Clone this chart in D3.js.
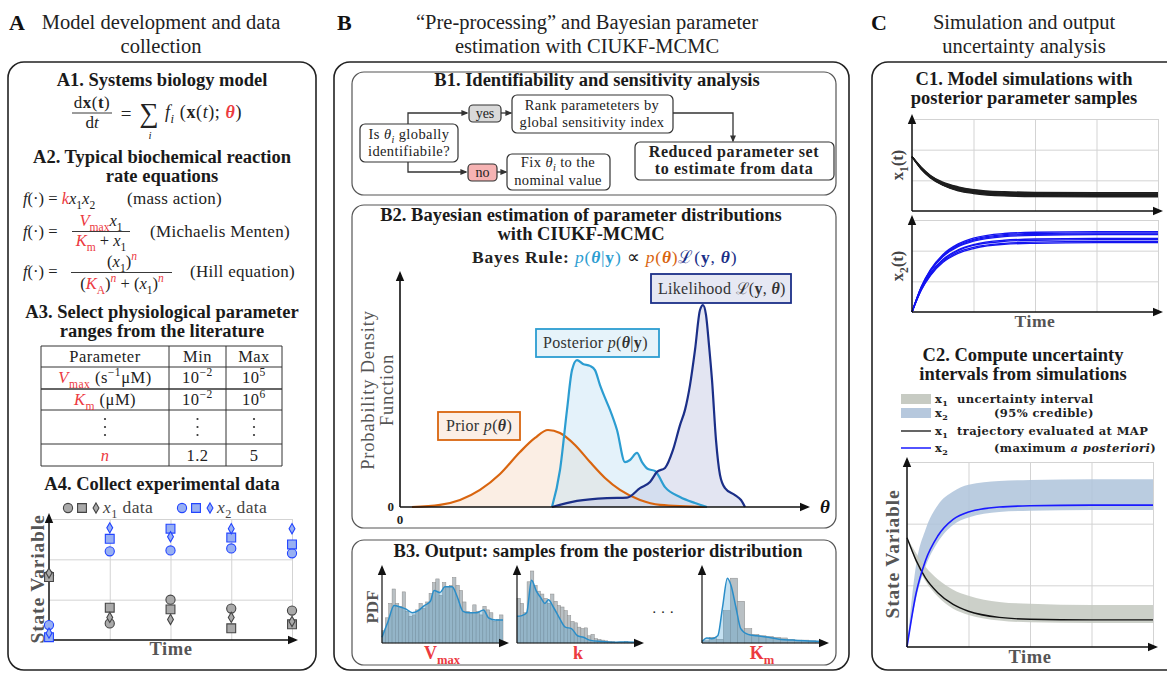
<!DOCTYPE html>
<html>
<head>
<meta charset="utf-8">
<script src="https://cdn.jsdelivr.net/npm/d3@7"></script>
<style>
  body { margin: 0; background: #fff; }
  svg { display: block; font-family: "Liberation Serif", "Times New Roman", serif; }
</style>
</head>
<body>
<svg id="fig" width="1167" height="673"></svg>
<script>
"use strict";

// ---- A3: parameter table ----
var tableHeader = ["Parameter", "Min", "Max"];
var tableMin = ["10|−2", "10|−2", "", "1.2"];   // base|exponent
var tableMax = ["10|5", "10|6", "", "5"];

// ---- A4: experimental data (time index, state value) ----
var dataTimes = [0, 1, 2, 3, 4];
var x1Circle  = [1.60, 0.41, 1.00, 0.78, 0.73];
var x1Square  = [1.56, 0.80, 0.76, 0.29, 0.39];
var x1Diamond = [1.66, 0.56, 0.51, 0.56, 0.46];
var x2Circle  = [0.37, 2.20, 2.22, 2.27, 2.15];
var x2Square  = [0.07, 2.51, 2.76, 2.54, 2.37];
var x2Diamond = [0.17, 2.78, 2.56, 2.76, 2.76];

// ---- B2: densities [theta, density] ----
var priorPts = [[0.30,0],[1.00,0.009],[1.50,0.030],[2.00,0.073],[2.50,0.141],[3.00,0.235],
  [3.375,0.295],[3.70,0.329],[4.00,0.316],[4.375,0.265],[4.75,0.192],[5.125,0.124],
  [5.50,0.073],[6.00,0.030],[6.50,0.009],[7.675,0]];
var posteriorPts = [[3.80,0],[4.00,0.158],[4.175,0.415],[4.30,0.585],[4.425,0.628],[4.575,0.611],
  [4.75,0.603],[4.875,0.585],[5.00,0.521],[5.125,0.466],[5.25,0.415],[5.425,0.329],[5.625,0.192],
  [5.75,0.201],[5.925,0.231],[6.05,0.192],[6.20,0.162],[6.375,0.154],[6.625,0.085],[7.00,0.043],
  [7.375,0.017],[7.675,0]];
var likelihoodPts = [[3.80,0],[4.425,0.026],[5.175,0.038],[5.675,0.040],[6.00,0.081],[6.25,0.107],
  [6.425,0.150],[6.625,0.167],[6.825,0.244],[7.00,0.350],[7.125,0.415],[7.25,0.521],[7.375,0.671],
  [7.50,0.842],[7.575,0.863],[7.65,0.821],[7.725,0.692],[7.80,0.543],[7.90,0.286],[8.00,0.137],
  [8.125,0.081],[8.375,0.051],[8.525,0.030],[8.625,0]];

// ---- B3: posterior samples histograms + KDE ----
var vmaxBins = [0.17,0.35,0.55,0.75,0.55,0.51,0.71,0.44,0.37,0.39,0.46,0.55,0.48,0.57,0.69,0.84,
  0.89,0.66,0.84,0.78,0.80,0.91,0.80,0.73,0.57,0.44,0.42,0.53,0.44,0.39,0.51,0.46,0.42,0.30,0.33,0.39];
var vmaxKde = [[0,0.08],[0.05,0.30],[0.10,0.52],[0.15,0.50],[0.20,0.47],[0.25,0.42],[0.30,0.45],
  [0.35,0.52],[0.40,0.58],[0.43,0.73],[0.48,0.70],[0.52,0.78],[0.58,0.78],[0.62,0.65],[0.67,0.44],
  [0.72,0.42],[0.78,0.42],[0.84,0.46],[0.88,0.35],[0.94,0.32],[1,0.32]];
var kBins = [0.62,0.55,0.42,0.85,1.00,0.80,0.72,0.68,0.62,0.55,0.68,0.58,0.52,0.50,0.45,0.38,0.30,0.28,
  0.22,0.20,0.21,0.10,0.12,0.06,0.05,0.04,0.03,0.02,0.02,0.01,0.01,0.01,0.02,0.01,0.01,0.01];
var kKde = [[0,0.37],[0.04,0.38],[0.08,0.42],[0.12,0.87],[0.16,0.72],[0.20,0.62],[0.23,0.55],
  [0.26,0.60],[0.30,0.50],[0.35,0.35],[0.40,0.22],[0.45,0.20],[0.50,0.10],[0.55,0.08],[0.60,0.04],
  [0.70,0.02],[0.80,0.01],[0.90,0.015],[1,0.01]];
var kmBins = [0.03,0.08,0.05,0.45,0.90,0.58,0.20,0.12,0.10,0.09,0.08,0.07,0.05,0.04,0.04,0.03,0.02];
var kmKde = [[0,0.02],[0.04,0.07],[0.08,0.06],[0.13,0.10],[0.17,0.50],[0.21,0.90],[0.24,0.80],
  [0.28,0.50],[0.32,0.20],[0.38,0.12],[0.45,0.10],[0.55,0.08],[0.65,0.05],[0.75,0.04],[0.85,0.03],[1,0.02]];

// ---- C1: simulated trajectories from posterior samples ----
var simTimes = [0, 0.15, 0.3, 0.5, 0.75, 1, 1.5, 2, 3, 4];
var x1Sims = [
  [1.77,1.36,1.08,0.84,0.66,0.57,0.49,0.47,0.46,0.46],
  [1.77,1.37,1.09,0.85,0.68,0.59,0.51,0.49,0.48,0.48],
  [1.77,1.38,1.10,0.86,0.69,0.60,0.53,0.51,0.50,0.50],
  [1.77,1.39,1.11,0.88,0.71,0.62,0.55,0.53,0.52,0.52],
  [1.77,1.40,1.12,0.89,0.73,0.64,0.57,0.55,0.54,0.54],
  [1.77,1.41,1.14,0.91,0.75,0.66,0.59,0.57,0.56,0.56],
  [1.77,1.42,1.15,0.92,0.77,0.68,0.61,0.59,0.58,0.58],
  [1.77,1.43,1.16,0.94,0.79,0.70,0.63,0.61,0.60,0.60]];
var x2Sims = [
  [0,0.82,1.38,1.87,2.22,2.41,2.56,2.60,2.62,2.62],
  [0,0.81,1.36,1.84,2.19,2.37,2.52,2.56,2.58,2.58],
  [0,0.80,1.35,1.82,2.16,2.34,2.49,2.53,2.55,2.55],
  [0,0.79,1.33,1.80,2.13,2.31,2.46,2.50,2.52,2.52],
  [0,0.75,1.27,1.71,2.03,2.20,2.34,2.38,2.40,2.40],
  [0,0.74,1.25,1.68,2.00,2.17,2.30,2.34,2.36,2.36],
  [0,0.72,1.21,1.64,1.95,2.11,2.24,2.28,2.30,2.30],
  [0,0.71,1.19,1.61,1.91,2.07,2.21,2.24,2.26,2.26]];

// ---- C2: MAP trajectories and 95% credible bands ----
var x1Map = [1.77,1.40,1.12,0.88,0.69,0.58,0.48,0.45,0.44,0.44];
var x1Lo  = [1.77,1.36,1.07,0.82,0.62,0.52,0.43,0.40,0.39,0.39];
var x1Hi  = [1.77,1.52,1.30,1.10,0.93,0.83,0.73,0.70,0.68,0.68];
var x2Map = [0,0.88,1.40,1.80,2.07,2.19,2.27,2.29,2.30,2.30];
var x2Lo  = [0,0.80,1.30,1.70,1.98,2.10,2.19,2.21,2.22,2.22];
var x2Hi  = [0,1.35,1.90,2.30,2.52,2.63,2.69,2.71,2.72,2.72];


var RED = "#ec3a3f", ORANGE = "#d9650f", LBLUE = "#2c9dd1", NAVY = "#1b2f88",
    GRID = "#d3d3d3", INK = "#222", AXT = "#555";

var svg = d3.select("#fig");
var defs = svg.append("defs");

function marker(id, size, color) {
    defs.append("marker").attr("id", id)
        .attr("viewBox", "0 0 10 10").attr("refX", 8).attr("refY", 5)
        .attr("markerWidth", size).attr("markerHeight", size)
        .attr("markerUnits", "userSpaceOnUse").attr("orient", "auto")
        .append("path").attr("d", "M0,0.8 L10,5 L0,9.2 z").attr("fill", color);
}
marker("arr", 10, "#111");
marker("arrS", 7, "#333");

//text made of styled runs: {t, i, b, sub, sup, c}
function rich(g, x, y, parts, o) {
    o = o || {};
    var size = o.size || 15, cur = 0;
    var t = g.append("text").attr("x", x).attr("y", y)
        .attr("font-size", size)
        .attr("text-anchor", o.anchor || "start")
        .attr("fill", o.fill || INK);
    if(o.bold) { t.attr("font-weight", "bold"); }
    if(o.font) { t.attr("font-family", o.font); }
    if(o.ls) { t.attr("letter-spacing", o.ls); }
    if(o.rotate) { t.attr("transform", "rotate(-90," + x + "," + y + ")"); }
    parts.forEach(function (p) {
        if(typeof p === "string") { p = {t: p}; }
        var off = p.sub ? size * 0.28 : (p.sup ? -size * 0.42 : 0);
        var ts = t.append("tspan").attr("dy", off - cur).text(p.t);
        cur = off;
        if(p.sub || p.sup) { ts.attr("font-size", size * 0.7); }
        if(p.i) { ts.attr("font-style", "italic"); }
        if(p.b) { ts.attr("font-weight", "bold"); }
        if(p.c) { ts.attr("fill", p.c); }
    });
    return t;
}

function label(g, x, y, s, o) {
    return rich(g, x, y, [s], o);
}

function box(g, x, y, w, h, r, o) {
    o = o || {};
    return g.append("rect").attr("x", x).attr("y", y).attr("width", w).attr("height", h)
        .attr("rx", r).attr("ry", r)
        .attr("fill", o.fill || "none")
        .attr("stroke", o.stroke || INK)
        .attr("stroke-width", o.sw || 1.2);
}

function hline(g, x1, x2, y, o) {
    o = o || {};
    return g.append("line").attr("x1", x1).attr("x2", x2).attr("y1", y).attr("y2", y)
        .attr("stroke", o.stroke || INK).attr("stroke-width", o.sw || 1);
}

function grid(g, xs, ys, xticks, yticks) {
    var h = ys.range()[0] - ys.range()[1], w = xs.range()[1] - xs.range()[0];
    g.append("g").attr("transform", "translate(0," + ys.range()[0] + ")")
        .call(d3.axisBottom(xs).tickValues(xticks).tickSize(-h).tickFormat(""))
        .call(function (a) { a.select(".domain").remove();
            a.selectAll("line").attr("stroke", GRID); });
    g.append("g").attr("transform", "translate(" + xs.range()[0] + ",0)")
        .call(d3.axisLeft(ys).tickValues(yticks).tickSize(-w).tickFormat(""))
        .call(function (a) { a.select(".domain").remove();
            a.selectAll("line").attr("stroke", GRID); });
}

function arrowAxes(g, xs, ys, ext, sw) {
    var x0 = xs.range()[0], x1 = xs.range()[1], y0 = ys.range()[0], y1 = ys.range()[1];
    g.append("line").attr("x1", x0).attr("y1", y0).attr("x2", x0).attr("y2", y1 - ext)
        .attr("stroke", "#111").attr("stroke-width", sw || 1.5).attr("marker-end", "url(#arr)");
    g.append("line").attr("x1", x0).attr("y1", y0).attr("x2", x1 + ext).attr("y2", y0)
        .attr("stroke", "#111").attr("stroke-width", sw || 1.5).attr("marker-end", "url(#arr)");
}

function panelHead(letter, lx, cx, lines) {
    svg.append("text").attr("x", lx).attr("y", 30).attr("font-size", 22)
        .attr("font-weight", "bold").attr("fill", "#111").text(letter);
    lines.forEach(function (s, i) {
        svg.append("text").attr("x", cx).attr("y", 29 + i * 24).attr("font-size", 20.5)
            .attr("text-anchor", "middle").attr("fill", INK).text(s);
    });
}

function heading(g, cx, y, lines, gap) {
    lines.forEach(function (s, i) {
        label(g, cx, y + i * (gap || 19), s, {anchor: "middle", bold: true, size: 18.5, fill: "#1a1a1a"});
    });
}

// ================= Panel A =================
function drawPanelA() {
    var g = svg.append("g");
    panelHead("A", 9, 161, ["Model development and data", "collection"]);
    box(g, 8, 62, 308, 608, 16, {sw: 1.6});

    heading(g, 162, 86, ["A1. Systems biology model"]);
    // dx(t)/dt = sum_i f_i(x(t); theta)
    rich(g, 92, 108, ["d", {t: "x", b: 1}, "(", {t: "t", b: 1}, ")"], {anchor: "middle", size: 17, ls: 0.5});
    hline(g, 72, 112, 113, {sw: 0.9});
    rich(g, 92, 128, ["d", {t: "t", i: 1}], {anchor: "middle", size: 17});
    label(g, 126, 120, "=", {anchor: "middle", size: 19});
    label(g, 149, 122, "∑", {anchor: "middle", size: 27});
    label(g, 150, 139, "i", {anchor: "middle", size: 11, fill: INK}).attr("font-style", "italic");
    rich(g, 165, 118, [{t: "f", i: 1}, {t: "i", i: 1, sub: 1}, " (", {t: "x", b: 1}, "(",
        {t: "t", i: 1}, "); ", {t: "θ", b: 1, i: 1, c: RED}, ")"], {size: 18, ls: 0.6});

    heading(g, 162, 163, ["A2. Typical biochemical reaction", "rate equations"]);
    var eq = {size: 16.5};
    var fdot = [{t: "f", i: 1}, "(·) = "];
    rich(g, 23, 204, fdot.concat([{t: "k", i: 1, c: RED}, {t: "x", i: 1}, {t: "1", sub: 1},
        {t: "x", i: 1}, {t: "2", sub: 1}]), eq);
    label(g, 127, 204, "(mass action)", {size: 17, ls: 0.3});

    rich(g, 23, 237, fdot, eq);
    rich(g, 101, 226, [{t: "V", i: 1, c: RED}, {t: "max", sub: 1, c: RED}, {t: "x", i: 1},
        {t: "1", sub: 1}], {anchor: "middle", size: 16.5});
    hline(g, 72, 130, 231.5, {sw: 0.9});
    rich(g, 101, 246, [{t: "K", i: 1, c: RED}, {t: "m", sub: 1, c: RED}, " + ", {t: "x", i: 1},
        {t: "1", sub: 1}], {anchor: "middle", size: 16.5});
    label(g, 150, 237, "(Michaelis Menten)", {size: 17, ls: 0.3});

    rich(g, 23, 277, fdot, eq);
    rich(g, 122, 267, ["(", {t: "x", i: 1}, {t: "1", sub: 1}, ")", {t: "n", i: 1, sup: 1, c: RED}],
        {anchor: "middle", size: 16.5});
    hline(g, 71, 172, 272.5, {sw: 0.9});
    rich(g, 122, 289, ["(", {t: "K", i: 1, c: RED}, {t: "A", sub: 1, c: RED}, ")",
        {t: "n", i: 1, sup: 1, c: RED}, " + (", {t: "x", i: 1}, {t: "1", sub: 1}, ")",
        {t: "n", i: 1, sup: 1, c: RED}], {anchor: "middle", size: 16.5});
    label(g, 190, 277, "(Hill equation)", {size: 17, ls: 0.3});

    // A3 table
    heading(g, 162, 318, ["A3. Select physiological parameter", "ranges from the literature"]);
    var cols = [41, 169, 226, 282], rows = [346, 367, 389, 410, 444, 466];
    var cx = [105, 197.5, 254];
    rows.forEach(function (y, i) {
        hline(g, cols[0], cols[3], y, {sw: i === 2 ? 1.8 : 1, stroke: i === 2 ? "#666" : "#333"});
    });
    cols.forEach(function (x) {
        g.append("line").attr("x1", x).attr("x2", x).attr("y1", rows[0]).attr("y2", rows[5])
            .attr("stroke", "#333").attr("stroke-width", 1);
    });
    var tf = {anchor: "middle", size: 16.5, ls: 0.5};
    tableHeader.forEach(function (s, i) { label(g, cx[i], 362, s, tf); });
    var paramCells = [
        [{t: "V", i: 1, c: RED}, {t: "max", sub: 1, c: RED}, " (s", {t: "−1", sup: 1}, "μM)"],
        [{t: "K", i: 1, c: RED}, {t: "m", sub: 1, c: RED}, " (μM)"],
        null,
        [{t: "n", i: 1, c: RED}]];
    var rowBase = [383, 405, 0, 461];
    paramCells.forEach(function (cell, r) {
        if(!cell) {
            cx.forEach(function (x) {
                [419, 427, 435].forEach(function (y) {
                    g.append("circle").attr("cx", x).attr("cy", y).attr("r", 1.1).attr("fill", "#333");
                });
            });
            return;
        }
        rich(g, cx[0], rowBase[r], cell, tf);
        [tableMin[r], tableMax[r]].forEach(function (v, k) {
            var p = v.split("|");
            var parts = p.length > 1 ? [p[0], {t: p[1], sup: 1}] : [p[0]];
            rich(g, cx[k + 1], rowBase[r], parts, tf);
        });
    });

    // A4 data chart
    heading(g, 162, 490, ["A4. Collect experimental data"]);
    var xs = d3.scaleLinear([0, 4], [49, 292]), ys = d3.scaleLinear([0, 3], [640, 519]);
    grid(g, xs, ys, [1, 2, 3, 4], [1, 2, 3]);
    arrowAxes(g, xs, ys, 4, 1.5);

    var gray = {fill: "#aaaaaa", stroke: "#444"}, blue = {fill: "#98b0f2", stroke: "#2244ff"};
    var sym = {circle: d3.symbol(d3.symbolCircle, 66), square: d3.symbol(d3.symbolSquare, 78),
               diamond: d3.symbol(d3.symbolDiamond, 30)};
    function series(vals, shape, st) {
        g.append("g").selectAll("path").data(vals).join("path")
            .attr("transform", function (d, i) { return "translate(" + xs(dataTimes[i]) + "," + ys(d) + ")"; })
            .attr("d", sym[shape]).attr("fill", st.fill).attr("stroke", st.stroke).attr("stroke-width", 1.1);
    }
    series(x1Circle, "circle", gray); series(x1Square, "square", gray); series(x1Diamond, "diamond", gray);
    series(x2Circle, "circle", blue); series(x2Square, "square", blue); series(x2Diamond, "diamond", blue);

    // legend
    [[68, "circle", gray], [82, "square", gray], [96, "diamond", gray],
     [182, "circle", blue], [196, "square", blue], [210, "diamond", blue]].forEach(function (d) {
        g.append("path").attr("transform", "translate(" + d[0] + ",508)").attr("d", sym[d[1]])
            .attr("fill", d[2].fill).attr("stroke", d[2].stroke).attr("stroke-width", 1.1);
    });
    rich(g, 103, 513, [{t: "x", i: 1}, {t: "1", sub: 1}, " data"], {size: 17.5, fill: "#444", ls: 0.4});
    rich(g, 217, 513, [{t: "x", i: 1}, {t: "2", sub: 1}, " data"], {size: 17.5, fill: "#444", ls: 0.4});
    label(g, 44, 579, "State Variable", {anchor: "middle", size: 19.5, bold: true, fill: AXT, rotate: true, ls: 0.8});
    label(g, 171, 655, "Time", {anchor: "middle", size: 18.5, bold: true, fill: AXT, ls: 0.6});
}

// ================= Panel B =================
function drawPanelB() {
    var g = svg.append("g");
    panelHead("B", 337, 587, ["“Pre-processing” and Bayesian parameter", "estimation with CIUKF-MCMC"]);
    box(g, 334, 62, 515, 608, 16, {sw: 1.6});

    // B1 flowchart
    box(g, 352, 72, 484, 123, 12, {stroke: "#555", sw: 1.2});
    heading(g, 597, 86, ["B1. Identifiability and sensitivity analysis"]);
    var fo = {anchor: "middle", size: 14.5, ls: 0.4}, th = [{t: "θ", i: 1}, {t: "i", i: 1, sub: 1}];
    function link(pts) {
        g.append("path").attr("d", d3.line()(pts)).attr("fill", "none")
            .attr("stroke", "#333").attr("stroke-width", 1.3).attr("marker-end", "url(#arrS)");
    }
    link([[408, 124], [408, 113], [467, 113]]);
    link([[408, 162], [408, 172], [466, 172]]);
    link([[501, 113], [511, 113]]);
    link([[497, 172], [506, 172]]);
    link([[673, 113], [733, 113], [733, 141]]);
    box(g, 360, 124, 98, 38, 5, {fill: "#fff", stroke: "#333"});
    rich(g, 409, 139, ["Is "].concat(th, [" globally"]), fo);
    label(g, 409, 156, "identifiabile?", fo);
    box(g, 469, 105, 32, 17, 4, {fill: "#d9d9d9", stroke: "#333"});
    label(g, 485, 117.5, "yes", {anchor: "middle", size: 14});
    box(g, 468, 164, 29, 17, 4, {fill: "#f6b3b3", stroke: "#333"});
    label(g, 482.5, 176.5, "no", {anchor: "middle", size: 14});
    box(g, 512, 95, 161, 38, 5, {fill: "#fff", stroke: "#333"});
    label(g, 592, 110, "Rank parameteters by", fo);
    label(g, 592, 126.5, "global sensitivity index", fo);
    box(g, 507, 154, 103, 36, 5, {fill: "#fff", stroke: "#333"});
    rich(g, 558, 167, ["Fix "].concat(th, [" to the"]), fo);
    label(g, 558, 185, "nominal value", fo);
    box(g, 635, 142, 199, 38, 5, {fill: "#fff", stroke: "#333"});
    label(g, 734, 157, "Reduced parameter set", {anchor: "middle", size: 16, bold: true, ls: 0.6});
    label(g, 734, 174, "to estimate from data", {anchor: "middle", size: 16, bold: true, ls: 0.6});

    // B2 Bayesian densities
    box(g, 352, 205, 484, 323, 12, {stroke: "#555", sw: 1.2});
    heading(g, 581, 221, ["B2. Bayesian estimation of parameter distributions", "with CIUKF-MCMC"], 18.5);
    rich(g, 472, 263, [{t: "Bayes Rule: ", b: 1},
        {t: "p", i: 1, c: LBLUE}, {t: "(", c: LBLUE}, {t: "θ", b: 1, i: 1, c: LBLUE}, {t: "|", c: LBLUE},
        {t: "y", b: 1, c: LBLUE}, {t: ")", c: LBLUE}, " ∝ ",
        {t: "p", i: 1, c: ORANGE}, {t: "(", c: ORANGE}, {t: "θ", b: 1, i: 1, c: ORANGE}, {t: ")", c: ORANGE},
        {t: "ℒ", c: NAVY}, {t: "(", c: NAVY}, {t: "y", b: 1, c: NAVY}, {t: ", ", c: NAVY},
        {t: "θ", b: 1, i: 1, c: NAVY}, {t: ")", c: NAVY}], {size: 17.5, ls: 0.8});

    var xs = d3.scaleLinear([0, 10], [400, 800]), ys = d3.scaleLinear([0, 1], [507, 273]);
    var area = d3.area().x(function (d) { return xs(d[0]); }).y0(ys(0))
        .y1(function (d) { return ys(d[1]); }).curve(d3.curveMonotoneX);
    var line = d3.line().x(function (d) { return xs(d[0]); })
        .y(function (d) { return ys(d[1]); }).curve(d3.curveMonotoneX);
    var dens = [[priorPts, ORANGE, "#f6d9c3"], [posteriorPts, LBLUE, "#c4e3f3"],
                [likelihoodPts, NAVY, "#c0c5e2"]];
    dens.forEach(function (d) {
        g.append("path").attr("d", area(d[0])).attr("fill", d[2]).attr("fill-opacity", 0.45);
    });
    dens.forEach(function (d) {
        g.append("path").attr("d", line(d[0])).attr("fill", "none").attr("stroke", d[1])
            .attr("stroke-width", 2.2);
    });
    arrowAxes(g, d3.scaleLinear([0, 1], [400, 805]), d3.scaleLinear([0, 1], [507, 276]), 3, 1.6);
    rich(g, 820, 513, [{t: "θ", b: 1, i: 1}], {size: 19, fill: "#111"});
    label(g, 394, 511, "0", {anchor: "end", size: 13, bold: true});
    label(g, 400, 524, "0", {anchor: "middle", size: 13, bold: true});
    label(g, 374, 390, "Probability Density", {anchor: "middle", size: 18.5, fill: AXT, rotate: true, ls: 0.8});
    label(g, 393, 390, "Function", {anchor: "middle", size: 18.5, fill: AXT, rotate: true, ls: 0.8});

    box(g, 438, 412, 82, 28, 0, {fill: "#fcefe6", stroke: ORANGE, sw: 1.8});
    rich(g, 446, 431, ["Prior ", {t: "p", i: 1}, "(", {t: "θ", b: 1, i: 1}, ")"], {size: 16, fill: "#333", ls: 0.3});
    box(g, 536, 329, 123, 28, 0, {fill: "#e6f3fa", stroke: LBLUE, sw: 1.8});
    rich(g, 543, 348, ["Posterior ", {t: "p", i: 1}, "(", {t: "θ", b: 1, i: 1}, "|", {t: "y", b: 1}, ")"],
        {size: 16, fill: "#333", ls: 0.3});
    box(g, 651, 274, 140, 29, 0, {fill: "#e6e8f3", stroke: NAVY, sw: 1.8});
    rich(g, 658, 294, ["Likelihood ", {t: "ℒ"}, "(", {t: "y", b: 1}, ", ", {t: "θ", b: 1, i: 1}, ")"],
        {size: 16, fill: "#333", ls: 0.3});

    // B3 histograms
    box(g, 352, 540, 484, 125, 12, {stroke: "#555", sw: 1.2});
    heading(g, 598, 557, ["B3. Output: samples from the posterior distribution"]);
    function hist(x0, bins, kde) {
        var hx = d3.scaleLinear([0, 1], [x0, x0 + 121]), hy = d3.scaleLinear([0, 1], [643, 571]);
        var bw = 121 / bins.length;
        g.append("g").selectAll("rect").data(bins).join("rect")
            .attr("x", function (d, i) { return hx(0) + i * bw; })
            .attr("y", function (d) { return hy(d); })
            .attr("width", bw).attr("height", function (d) { return hy(0) - hy(d); })
            .attr("fill", "#b9c0c4").attr("stroke", "#8c8c8c").attr("stroke-width", 0.5);
        var ar = d3.area().x(function (d) { return hx(d[0]); }).y0(hy(0))
            .y1(function (d) { return hy(d[1]); }).curve(d3.curveMonotoneX);
        var ln = d3.line().x(function (d) { return hx(d[0]); })
            .y(function (d) { return hy(d[1]); }).curve(d3.curveMonotoneX);
        g.append("path").attr("d", ar(kde)).attr("fill", "#3f9bd0").attr("fill-opacity", 0.3);
        g.append("path").attr("d", ln(kde)).attr("fill", "none").attr("stroke", "#2a8dc8")
            .attr("stroke-width", 1.5);
        arrowAxes(g, hx, hy, 4, 1.2);
    }
    hist(382, vmaxBins, vmaxKde);
    hist(517, kBins, kKde);
    hist(702, kmBins, kmKde);
    rich(g, 442, 659, [{t: "V"}, {t: "max", sub: 1}], {anchor: "middle", size: 18, bold: true, fill: RED});
    label(g, 578, 659, "k", {anchor: "middle", size: 18, bold: true, fill: RED});
    rich(g, 762, 659, [{t: "K"}, {t: "m", sub: 1}], {anchor: "middle", size: 18, bold: true, fill: RED});
    label(g, 378, 607, "PDF", {anchor: "middle", size: 17, bold: true, fill: AXT, rotate: true});
    label(g, 663, 617, "· · ·", {anchor: "middle", size: 15});
}

// ================= Panel C =================
function drawPanelC() {
    var g = svg.append("g");
    panelHead("C", 871, 1024, ["Simulation and output", "uncertainty analysis"]);
    box(g, 872, 62, 330, 608, 16, {sw: 1.6});

    heading(g, 1024, 85, ["C1. Model simulations with", "posterior parameter samples"], 18.5);
    var xs = d3.scaleLinear([0, 4], [912, 1158]);
    function simPlot(y0, sims, color, name) {
        var ys = d3.scaleLinear([0, 3], [y0, y0 - 92]);
        grid(g, xs, ys, [1, 2, 3, 4], [1, 2, 3]);
        var ln = d3.line().x(function (d, i) { return xs(simTimes[i]); })
            .y(function (d) { return ys(d); }).curve(d3.curveMonotoneX);
        g.append("g").selectAll("path").data(sims).join("path").attr("d", ln)
            .attr("fill", "none").attr("stroke", color).attr("stroke-width", 1.3);
        arrowAxes(g, xs, ys, 3, 1.5);
        rich(g, 903, y0 - 46, [{t: "x"}, {t: name, sub: 1}, "(", {t: "t"}, ")"],
            {anchor: "middle", size: 16.5, bold: true, fill: "#444", rotate: true});
    }
    simPlot(211, x1Sims, "#1e1e1e", "1");
    simPlot(312, x2Sims, "#1414f0", "2");
    label(g, 1035, 327, "Time", {anchor: "middle", size: 17.5, bold: true, fill: AXT, ls: 0.6});

    // C2
    heading(g, 1023, 361, ["C2. Compute uncertainty", "intervals from simulations"], 18.5);
    var lf = "'DejaVu Serif', serif", ls = {size: 11.5, bold: true, font: lf, ls: 0.4};
    g.append("rect").attr("x", 901).attr("y", 394).attr("width", 30).attr("height", 10).attr("fill", "#c7cbc3");
    g.append("rect").attr("x", 901).attr("y", 408).attr("width", 30).attr("height", 10).attr("fill", "#b6c8dd");
    rich(g, 935, 403, ["x", {t: "1", sub: 1}], ls);
    label(g, 957, 403, "uncertainty interval", ls);
    rich(g, 935, 417, ["x", {t: "2", sub: 1}], ls);
    label(g, 994, 417, "(95% credible)", ls);
    hline(g, 901, 931, 431, {stroke: "#111", sw: 1.3});
    hline(g, 901, 931, 448, {stroke: "#1a1aff", sw: 1.5});
    rich(g, 935, 435, ["x", {t: "1", sub: 1}], ls);
    label(g, 957, 435, "trajectory evaluated at MAP", ls);
    rich(g, 935, 452, ["x", {t: "2", sub: 1}], ls);
    rich(g, 994, 452, ["(maximum ", {t: "a posteriori", i: 1}, ")"], ls);

    var xs2 = d3.scaleLinear([0, 4], [907, 1153]), ys2 = d3.scaleLinear([0, 3], [647, 462]);
    grid(g, xs2, ys2, [1, 2, 3, 4], [1, 2, 3]);
    function band(lo, hi, fill, op) {
        var ar = d3.area().x(function (d, i) { return xs2(simTimes[i]); })
            .y0(function (d, i) { return ys2(lo[i]); }).y1(function (d) { return ys2(d); })
            .curve(d3.curveMonotoneX);
        g.append("path").attr("d", ar(hi)).attr("fill", fill).attr("fill-opacity", op);
    }
    band(x2Lo, x2Hi, "#aec3da", 0.85);
    band(x1Lo, x1Hi, "#c3c8bf", 0.85);
    var ln = d3.line().x(function (d, i) { return xs2(simTimes[i]); })
        .y(function (d) { return ys2(d); }).curve(d3.curveMonotoneX);
    g.append("path").attr("d", ln(x1Map)).attr("fill", "none").attr("stroke", "#111").attr("stroke-width", 1.4);
    g.append("path").attr("d", ln(x2Map)).attr("fill", "none").attr("stroke", "#1a1aff").attr("stroke-width", 1.6);
    arrowAxes(g, xs2, ys2, 3, 1.5);
    label(g, 899, 554, "State Variable", {anchor: "middle", size: 19.5, bold: true, fill: AXT, rotate: true, ls: 0.8});
    label(g, 1030, 663, "Time", {anchor: "middle", size: 18.5, bold: true, fill: AXT, ls: 0.6});
}

drawPanelA();
drawPanelB();
drawPanelC();
</script>
</body>
</html>
